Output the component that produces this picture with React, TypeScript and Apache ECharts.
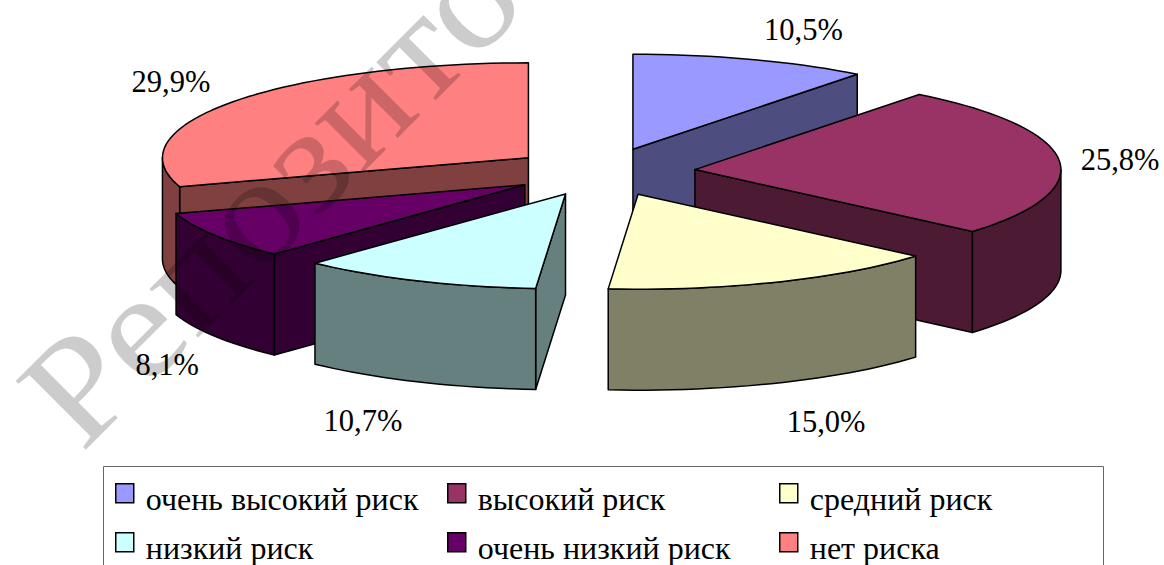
import React, { useEffect, useRef } from "react";
import * as echarts from "echarts";

const categories = ["очень высокий риск", "высокий риск", "средний риск", "низкий риск", "очень низкий риск", "нет риска"];
const shares = [10.5, 25.8, 15.0, 10.7, 8.1, 29.9];
const shareLabels = ["10,5%", "25,8%", "15,0%", "10,7%", "8,1%", "29,9%"];
const topColors = ["#9999FF", "#993366", "#FFFFCC", "#CCFFFF", "#660066", "#FF8080"];
const sideColors = ["#4D4D80", "#4D1A33", "#808066", "#668080", "#330033", "#804040"];

// back-to-front drawing order of the slices
const paintOrder = [0, 5, 1, 4, 2, 3];
// label nudges from the rim point at each slice's middle angle
const labelNudges = [[52, -29], [61, 0], [49, 140], [-54, 140], [-48, 130], [-62, -20]];
const legendSlots = [[115, 483], [447, 483], [779, 483], [115, 532], [447, 532], [779, 532]];

const W = 1164, H = 565;
const CX = 603, CY = 172, RX = 366, RY = 95, DEPTH = 101, EXPLODE = 0.2524;
const FONT = '"Liberation Serif", "Times New Roman", serif';
// swatch in the upper part of a taller symbol box, so it sits above the text's centre
const SWATCH = "path://M0 0H18V19H0Z M0 31L0 31";

const total = shares.reduce((a, b) => a + b, 0);
const rad = (d: number) => (d * Math.PI) / 180;

function slice(i: number) {
  const before = shares.slice(0, i).reduce((a, b) => a + b, 0);
  const a0 = (before / total) * 360;
  const a1 = ((before + shares[i]) / total) * 360;
  const mid = (a0 + a1) / 2;
  const ax = CX + RX * EXPLODE * Math.sin(rad(mid));
  const ay = CY - RY * EXPLODE * Math.cos(rad(mid));
  const rim = (a: number, drop = 0): number[] => [ax + RX * Math.sin(rad(a)), ay - RY * Math.cos(rad(a)) + drop];
  return { a0, a1, mid, ax, ay, rim };
}

function arcPoints(rim: (a: number, d?: number) => number[], from: number, to: number, drop = 0) {
  const n = Math.max(2, Math.ceil(Math.abs(to - from) / 2));
  const pts: number[][] = [];
  for (let k = 0; k <= n; k++) pts.push(rim(from + ((to - from) * k) / n, drop));
  return pts;
}

function renderSlice(i: number) {
  return () => {
    const { a0, a1, mid, ax, ay, rim } = slice(i);
    const line = { stroke: "#000", lineWidth: 1.5, lineJoin: "round" };
    const poly = (points: number[][], fill: string) => ({
      type: "polygon",
      shape: { points },
      style: { fill, ...line },
    });
    const children: any[] = [];
    const face = (a: number) => poly([[ax, ay], rim(a), rim(a, DEPTH), [ax, ay + DEPTH]], sideColors[i]);
    if (Math.sin(rad(a0)) < -1e-6) children.push(face(a0));
    if (Math.sin(rad(a1)) > 1e-6) children.push(face(a1));
    const w0 = Math.max(a0, 90), w1 = Math.min(a1, 270);
    if (w1 > w0) {
      children.push(
        poly([...arcPoints(rim, w0, w1), ...arcPoints(rim, w1, w0, DEPTH)], sideColors[i])
      );
    }
    children.push(poly([[ax, ay], ...arcPoints(rim, a0, a1)], topColors[i]));
    const [lx, ly] = rim(mid);
    children.push({
      type: "text",
      style: {
        text: shareLabels[i],
        x: lx + labelNudges[i][0],
        y: ly + labelNudges[i][1],
        fill: "#000",
        font: `30.5px ${FONT}`,
        textAlign: "center",
        textVerticalAlign: "middle",
      },
    });
    return { type: "group", children };
  };
}

export default function App() {
  const ref = useRef<HTMLDivElement>(null);
  useEffect(() => {
    const chart = echarts.init(ref.current!, undefined, { renderer: "svg", width: W, height: H });
    chart.setOption({
      animation: false,
      backgroundColor: "#fff",
      legend: categories.map((name, i) => ({
        data: [name],
        left: legendSlots[i][0],
        top: legendSlots[i][1],
        padding: 0,
        itemWidth: 18,
        itemHeight: 31,
        selectedMode: false,
        icon: SWATCH,
        itemStyle: { borderColor: "#000", borderWidth: 1.5 },
        textStyle: { color: "#000", fontFamily: FONT, fontSize: 32, padding: [0, 0, 0, 7] },
      })),
      series: paintOrder.map((i) => ({
        type: "custom",
        name: categories[i],
        coordinateSystem: "none",
        itemStyle: { color: topColors[i] },
        data: [shares[i]],
        renderItem: renderSlice(i),
        silent: true,
      })),
      graphic: [
        {
          type: "rect",
          z: 0,
          shape: { x: 103.5, y: 466.5, width: 1000, height: 110 },
          style: { fill: "transparent", stroke: "#666", lineWidth: 1 },
        },
        {
          type: "text",
          z: 100,
          x: 99,
          y: 471,
          rotation: Math.PI / 4,
          scaleX: 1.09,
          style: {
            text: "Репозито",
            font: `150px ${FONT}`,
            fill: "rgba(0,0,0,0.2)",
            textAlign: "left",
            textVerticalAlign: "bottom",
          },
        },
      ],
    });
    return () => chart.dispose();
  }, []);
  return <div ref={ref} style={{ position: "absolute", left: 0, top: 0, width: W, height: H, overflow: "hidden" }} />;
}
